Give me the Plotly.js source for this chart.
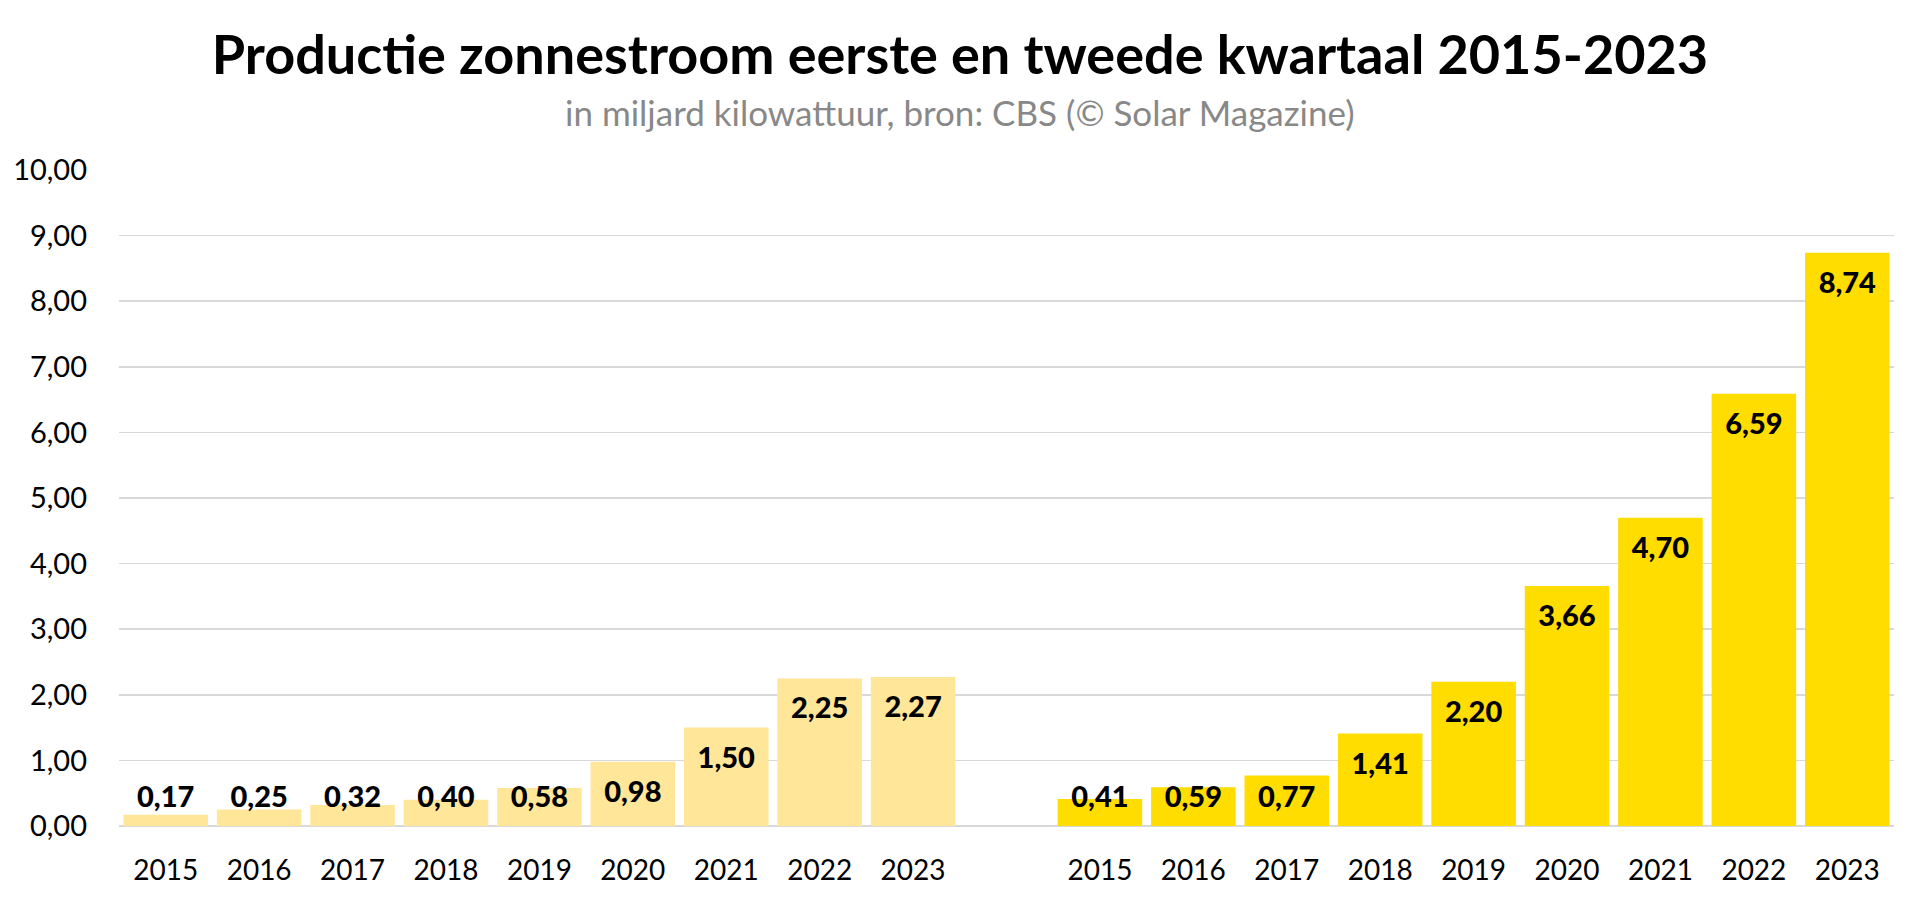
<!DOCTYPE html>
<html>
<head>
<meta charset="utf-8">
<script src="https://cdn.plot.ly/plotly-3.0.1.min.js"></script>
<style>html,body{margin:0;padding:0;background:#fff;}#chart{width:1920px;height:904px;}</style>
</head>
<body>
<div id="chart"></div>
<script>
const years = ["2015","2016","2017","2018","2019","2020","2021","2022","2023"];
const q1Values = [0.17, 0.25, 0.32, 0.40, 0.58, 0.98, 1.50, 2.25, 2.27];
const q2Values = [0.41, 0.59, 0.77, 1.41, 2.20, 3.66, 4.70, 6.59, 8.74];
const yTicks = [0,1,2,3,4,5,6,7,8,9,10];

const FONT = "Lato, 'Source Sans Pro', sans-serif";
const fmt = v => v.toFixed(2).replace('.', ',');

// slot positions: group 1 at 0..8, one empty slot, group 2 at 10..18
const x1 = years.map((_, i) => i);
const x2 = years.map((_, i) => i + years.length + 1);

// label centre: inside bar near its top, but never below a minimum height
const labelY = v => Math.max(v - 0.5, 0.4);

const traces = [
  {type:'bar', x:x1, y:q1Values, marker:{color:'#FFE699'}, hoverinfo:'skip', showlegend:false},
  {type:'bar', x:x2, y:q2Values, marker:{color:'#FFDD00'}, hoverinfo:'skip', showlegend:false},
  {type:'scatter', mode:'text', x:x1.concat(x2), y:q1Values.concat(q2Values).map(labelY),
   text:q1Values.concat(q2Values).map(fmt), textposition:'middle center',
   textfont:{family:FONT, size:29, color:'#000', weight:900}, hoverinfo:'skip', showlegend:false, cliponaxis:false}
];

const ML = 119, MR = 26, MT = 170, MB = 78, W = 1920, H = 904;
const plotW = W - ML - MR, plotH = H - MT - MB;

const layout = {
  width:W, height:H,
  margin:{l:ML, r:MR, t:MT, b:MB},
  paper_bgcolor:'#fff', plot_bgcolor:'#fff',
  bargap:0.095,
  font:{family:FONT, color:'#000'},
  title:{text:'<b>Productie zonnestroom eerste en tweede kwartaal 2015-2023</b>',
         font:{family:FONT, size:54, color:'#000', weight:900}, x:0.5, xanchor:'center', y:1-55/H, yanchor:'middle', yref:'container'},
  annotations:[{text:'in miljard kilowattuur, bron: CBS (© Solar Magazine)', xref:'paper', yref:'paper',
    x:(W/2 - ML)/plotW, y:(H - MB - 112)/plotH, xanchor:'center', yanchor:'middle', showarrow:false,
    font:{family:FONT, size:35, color:'#888888'}}],
  xaxis:{range:[-0.5, 18.5], tickvals:x1.concat(x2), ticktext:years.concat(years),
    showgrid:false, zeroline:false, showline:false, ticks:'', ticklabelstandoff:25,
    tickfont:{family:FONT, size:28, color:'#000'}, fixedrange:true},
  yaxis:{range:[0,10], tickvals:yTicks, ticktext:yTicks.map(fmt), showgrid:true, gridcolor:'#D9D9D9', gridwidth:1.5,
    zeroline:true, zerolinecolor:'#D9D9D9', zerolinewidth:1.5, showline:false, ticks:'', ticklabelstandoff:31,
    tickfont:{family:FONT, size:29, color:'#000'}, fixedrange:true}
};

Plotly.newPlot('chart', traces, layout, {displayModeBar:false, staticPlot:true});
</script>
</body>
</html>
